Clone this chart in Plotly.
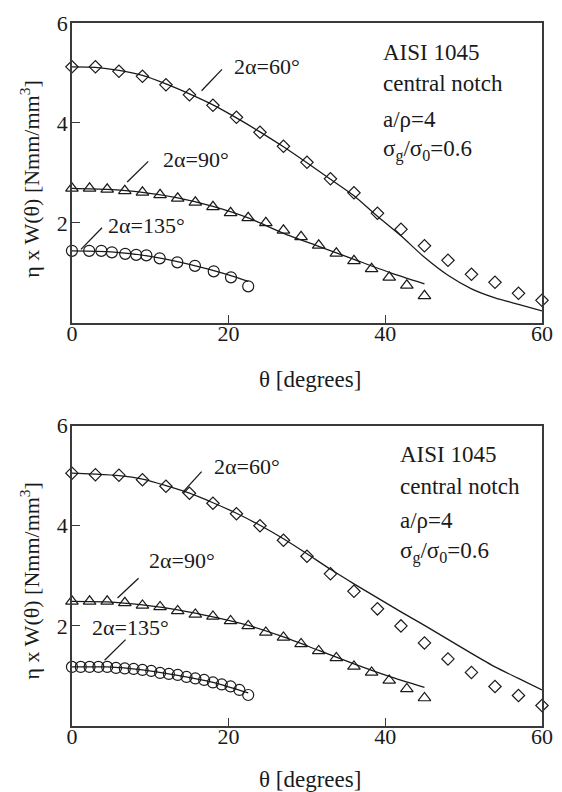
import plotly.graph_objects as go

W, H = 562, 792

# ---- upper panel data ------------------------------------------------------
theta_60 = [0, 3, 6, 9, 12, 15, 18, 21, 24, 27, 30, 33, 36, 39, 42, 45, 48, 51, 54, 57, 60]
top_pts_60 = [5.12, 5.12, 5.03, 4.93, 4.76, 4.56, 4.35, 4.11, 3.81, 3.53, 3.21,
              2.88, 2.60, 2.19, 1.87, 1.54, 1.25, 0.97, 0.81, 0.59, 0.45]
top_line_60 = [5.12, 5.11, 5.05, 4.95, 4.78, 4.58, 4.36, 4.10, 3.82, 3.52, 3.20,
               2.87, 2.54, 2.13, 1.74, 1.31, 0.95, 0.68, 0.50, 0.37, 0.24]

theta_90 = [0, 2.25, 4.5, 6.75, 9, 11.25, 13.5, 15.75, 18, 20.25, 22.5,
            24.75, 27, 29.25, 31.5, 33.75, 36, 38.25, 40.5, 42.75, 45]
top_pts_90 = [2.69, 2.69, 2.67, 2.64, 2.61, 2.56, 2.49, 2.41, 2.32, 2.20, 2.10,
              2.00, 1.85, 1.72, 1.55, 1.39, 1.24, 1.08, 0.91, 0.75, 0.54]
theta_line_90 = [0, 4.5, 9, 13.5, 18, 22.5, 27, 31.5, 36, 40.5, 45]
top_line_90 = [2.69, 2.67, 2.61, 2.50, 2.33, 2.10, 1.79, 1.53, 1.27, 1.01, 0.78]

top_theta_135 = [0, 2.2, 3.75, 5.1, 6.8, 8.2, 9.5, 11.2, 13.45, 15.7, 18.1, 20.3, 22.5]
top_pts_135 = [1.44, 1.44, 1.44, 1.41, 1.38, 1.36, 1.35, 1.29, 1.21, 1.14, 1.03, 0.91, 0.73]
top_theta_line_135 = [0, 5, 10, 15, 20, 22.5]
top_line_135 = [1.44, 1.42, 1.33, 1.17, 0.96, 0.83]

# ---- lower panel data ------------------------------------------------------
bot_pts_60 = [5.05, 5.02, 5.01, 4.92, 4.79, 4.65, 4.45, 4.24, 4.00, 3.71, 3.39,
              3.04, 2.69, 2.34, 2.00, 1.66, 1.34, 1.07, 0.79, 0.61, 0.41]
bot_line_60 = [5.05, 5.03, 5.00, 4.93, 4.80, 4.65, 4.46, 4.25, 4.01, 3.74, 3.44,
               3.13, 2.84, 2.56, 2.28, 2.01, 1.73, 1.45, 1.18, 0.95, 0.72]

bot_pts_90 = [2.49, 2.49, 2.49, 2.46, 2.41, 2.38, 2.30, 2.23, 2.19, 2.10, 2.00,
              1.87, 1.77, 1.64, 1.50, 1.36, 1.19, 1.07, 0.91, 0.74, 0.56]
bot_line_90 = [2.49, 2.48, 2.42, 2.32, 2.18, 2.01, 1.78, 1.51, 1.24, 0.99, 0.77]

bot_theta_135 = [0, 1.125, 2.25, 3.375, 4.5, 5.625, 6.75, 7.875, 9, 10.125, 11.25,
                 12.375, 13.5, 14.625, 15.75, 16.875, 18, 19.125, 20.25, 21.375, 22.5]
bot_pts_135 = [1.18, 1.18, 1.18, 1.18, 1.18, 1.16, 1.15, 1.14, 1.12, 1.10, 1.06,
               1.04, 1.02, 0.98, 0.95, 0.92, 0.87, 0.83, 0.79, 0.72, 0.62]
bot_theta_line_135 = [0, 4.5, 9, 13.5, 18, 22.5]
bot_line_135 = [1.18, 1.18, 1.12, 1.01, 0.87, 0.66]

x_ticks = [0, 20, 40, 60]
y_ticks = [2, 4, 6]

FONT = "Liberation Serif"
INK = "#1a1a1a"
FRAME = "#3a3a3a"


def px(x):
    return x / W


def py(y):
    return 1 - y / H


fig = go.Figure()


def add_panel(xa, ya, pts60, line60, pts90, line90, th135, pts135, thl135, line135):
    mk = dict(color=INK, line=dict(color=INK, width=1.2))
    ln = dict(color=INK, width=1.3, shape="spline", smoothing=0.6)
    fig.add_trace(go.Scatter(x=theta_60, y=line60, mode="lines", line=ln,
                             xaxis=xa, yaxis=ya, cliponaxis=False))
    fig.add_trace(go.Scatter(x=theta_line_90, y=line90, mode="lines", line=ln,
                             xaxis=xa, yaxis=ya, cliponaxis=False))
    fig.add_trace(go.Scatter(x=thl135, y=line135, mode="lines", line=ln,
                             xaxis=xa, yaxis=ya, cliponaxis=False))
    fig.add_trace(go.Scatter(x=theta_60, y=pts60, mode="markers",
                             marker=dict(symbol="diamond-open", size=9.5, **mk), xaxis=xa, yaxis=ya, cliponaxis=False))
    fig.add_trace(go.Scatter(x=theta_90, y=pts90, mode="markers",
                             marker=dict(symbol="triangle-up-open", size=11, **mk), xaxis=xa, yaxis=ya, cliponaxis=False))
    fig.add_trace(go.Scatter(x=th135, y=pts135, mode="markers",
                             marker=dict(symbol="circle-open", size=11, **mk), xaxis=xa, yaxis=ya, cliponaxis=False))


add_panel("x", "y", top_pts_60, top_line_60, top_pts_90, top_line_90,
          top_theta_135, top_pts_135, top_theta_line_135, top_line_135)
add_panel("x2", "y2", bot_pts_60, bot_line_60, bot_pts_90, bot_line_90,
          bot_theta_135, bot_pts_135, bot_theta_line_135, bot_line_135)

axis_common = dict(showline=True, mirror=True, linecolor=FRAME, linewidth=1.6,
                   ticks="inside", ticklen=8, tickwidth=1.2, tickcolor=FRAME,
                   showgrid=False, zeroline=False, ticklabeloverflow="allow",
                   tickfont=dict(family=FONT, size=22, color=INK))
x_common = dict(range=[0, 60], tickvals=x_ticks, ticklabelstandoff=-10,
                domain=[px(68), px(552.7)], **axis_common)
y_common = dict(range=[0, 6], tickvals=y_ticks, ticklabelstandoff=-2, **axis_common)

fig.update_layout(
    width=W, height=H, margin=dict(l=0, r=0, t=0, b=0),
    paper_bgcolor="white", plot_bgcolor="white", showlegend=False,
    xaxis=dict(anchor="y", **x_common),
    yaxis=dict(domain=[py(315.6), py(11)], anchor="x", **y_common),
    xaxis2=dict(anchor="y2", **x_common),
    yaxis2=dict(domain=[py(725), py(420)], anchor="x2", **y_common),
)

ann = []
shapes = []


def text(x, y, s, size=21, anchor="left", angle=0):
    ann.append(dict(x=px(x), y=py(y), xref="paper", yref="paper", text=s, showarrow=False,
                    xanchor=anchor, yanchor="middle", textangle=angle,
                    font=dict(family=FONT, size=size, color=INK)))


def leader(x0, y0, x1, y1):
    shapes.append(dict(type="line", xref="paper", yref="paper",
                       x0=px(x0), y0=py(y0), x1=px(x1), y1=py(y1),
                       line=dict(color=INK, width=1.3)))


ytitle = "η x W(θ) [Nmm/mm<sup>3</sup>]"
info = ["AISI 1045", "central notch", "a/ρ=4", "σ<sub>g</sub>/σ<sub>0</sub>=0.6"]

# upper panel labels
text(313, 373, "θ [degrees]", size=23, anchor="center")
text(25, 170, ytitle, size=22, anchor="center", angle=-90)
for s, yy in zip(info, [41, 73, 109, 141]):
    text(387, yy, s, size=23)
text(233, 55, "2α=60°", size=22)
text(160, 150, "2α=90°", size=22)
text(103, 216.5, "2α=135°", size=22)
leader(201.7, 80, 222.7, 58.3)
leader(125, 172.7, 146.7, 151.7)
leader(77.3, 241, 99, 219)

# lower panel labels
text(313, 779, "θ [degrees]", size=23, anchor="center")
text(25, 578, ytitle, size=22, anchor="center", angle=-90)
for s, yy in zip(info, [449, 482, 516, 549]):
    text(404, yy, s, size=23)
text(212, 461.5, "2α=60°", size=22)
text(145, 557, "2α=90°", size=22)
text(87, 625, "2α=135°", size=22)
leader(181.7, 488.3, 201.7, 466.7)
leader(115, 595, 136.7, 575)
leader(101.7, 658.3, 123.3, 637.3)

fig.update_layout(annotations=ann, shapes=shapes)
fig.write_html("out.html")
